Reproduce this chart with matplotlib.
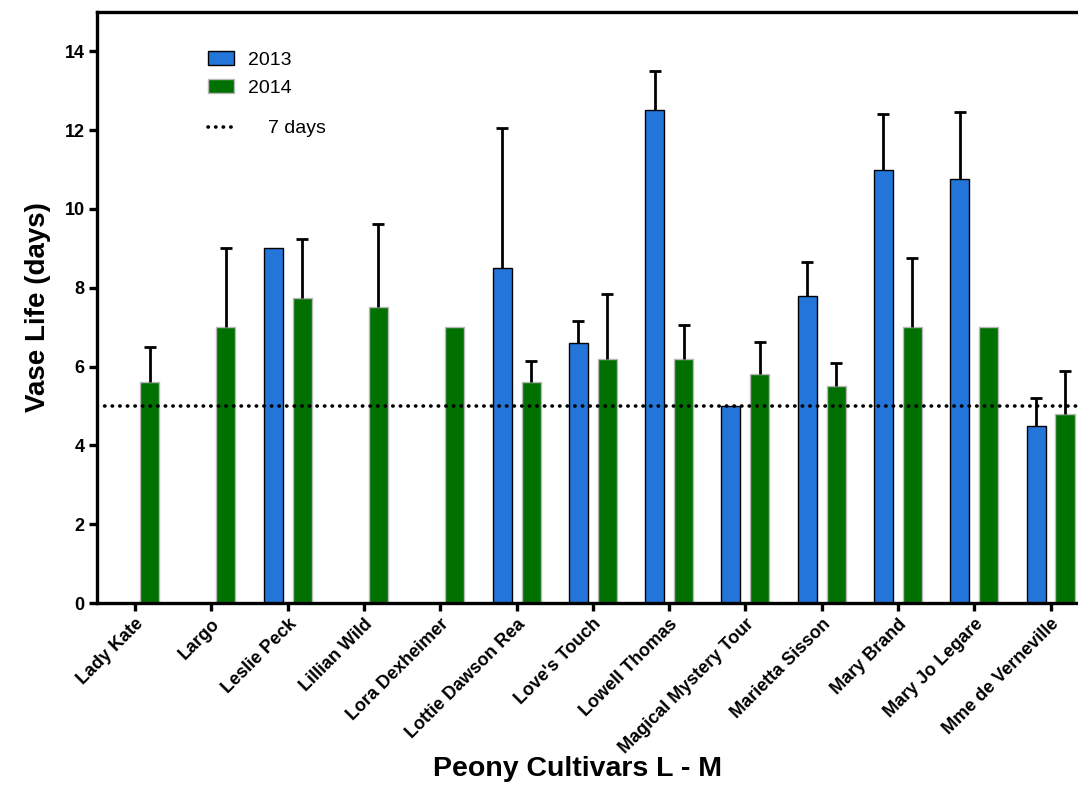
import numpy as np
import matplotlib.pyplot as plt
from matplotlib.lines import Line2D
from matplotlib.patches import Patch

cultivars = ["Lady Kate", "Largo", "Leslie Peck", "Lillian Wild", "Lora Dexheimer",
             "Lottie Dawson Rea", "Love's Touch", "Lowell Thomas", "Magical Mystery Tour",
             "Marietta Sisson", "Mary Brand", "Mary Jo Legare", "Mme de Verneville"]

nan = np.nan
# mean vase life (days), nan = not tested that year
vase_2013 = [nan, nan, 9.0, nan, nan, 8.5, 6.6, 12.5, 5.0, 7.8, 11.0, 10.75, 4.5]
vase_2014 = [5.6, 7.0, 7.75, 7.5, 7.0, 5.6, 6.2, 6.2, 5.8, 5.5, 7.0, 7.0, 4.8]
# upper error bar (days above mean), nan = no bar shown
err_2013 = [nan, nan, nan, nan, nan, 3.55, 0.55, 1.0, nan, 0.85, 1.4, 1.7, 0.7]
err_2014 = [0.9, 2.0, 1.5, 2.12, nan, 0.55, 1.65, 0.85, 0.83, 0.58, 1.75, nan, 1.1]
ref_line = 5.0

blue = "#2475d9"
green = "#007000"

plt.rcParams["font.family"] = ["Liberation Sans", "DejaVu Sans"]

fig = plt.figure(figsize=(10.78, 7.86), dpi=100)
ax = fig.add_axes([0.090, 0.2328, 0.910, 0.752])

x = np.arange(len(cultivars))
off = 0.19
w = 0.25


def draw_series(xpos, vals, errs, color, edge):
    vals = np.array(vals, dtype=float)
    errs = np.array(errs, dtype=float)
    ok = ~np.isnan(vals)
    ax.bar(xpos[ok], vals[ok], width=w, color=color, edgecolor=edge,
           linewidth=1.0, zorder=2)
    e = ok & ~np.isnan(errs)
    eb = ax.errorbar(xpos[e], vals[e], yerr=[np.zeros(e.sum()), errs[e]], fmt="none",
                     ecolor="black", elinewidth=2.0, capsize=4.5, capthick=2.0, zorder=3)
    # only the upper cap is shown
    eb[1][0].set_visible(False)


draw_series(x - off, vase_2013, err_2013, blue, "black")
draw_series(x + off, vase_2014, err_2014, green, "#b8b8b8")

ax.axhline(ref_line, color="black", linewidth=2.6, linestyle=(0, (0.1, 2.0)),
           dash_capstyle="round", zorder=4)

ax.set_xlim(-0.5, 12.36)
ax.set_ylim(0, 15)
ax.set_yticks(np.arange(0, 15, 2))
ax.set_xticks(x)
ax.set_xticklabels(cultivars, rotation=45, ha="right", rotation_mode="anchor",
                   fontsize=13, fontweight="bold")
for lab in ax.get_yticklabels():
    lab.set_fontsize(13)
    lab.set_fontweight("bold")

for side in ["left", "bottom", "top"]:
    ax.spines[side].set_linewidth(2.4)
ax.spines["right"].set_visible(False)
ax.tick_params(axis="both", direction="out", length=6, width=2.4, pad=3)

ax.set_ylabel("Vase Life (days)", fontsize=20, fontweight="bold", labelpad=10)
ax.set_xlabel("Peony Cultivars L - M", fontsize=20.5, fontweight="bold", labelpad=-1)
ax.xaxis.label.set_x(0.49)

leg1 = ax.legend(handles=[Patch(facecolor=blue, edgecolor="black", linewidth=1.0, label="2013"),
                          Patch(facecolor=green, edgecolor="#b8b8b8", linewidth=1.0, label="2014")],
                 loc="upper left", bbox_to_anchor=(0.1134, 0.934), frameon=False,
                 fontsize=14, handlelength=1.3, handleheight=0.77, handletextpad=0.75,
                 labelspacing=0.5, borderpad=0, borderaxespad=0)
ax.add_artist(leg1)
ax.legend(handles=[Line2D([], [], color="black", linewidth=2.6, linestyle=(0, (0.1, 2.0)),
                          dash_capstyle="round", label="7 days")],
          loc="upper left", bbox_to_anchor=(0.1134, 0.8175), frameon=False,
          fontsize=14, handlelength=1.3, handletextpad=1.75, borderpad=0, borderaxespad=0)

fig.savefig("out.png", dpi=100)
